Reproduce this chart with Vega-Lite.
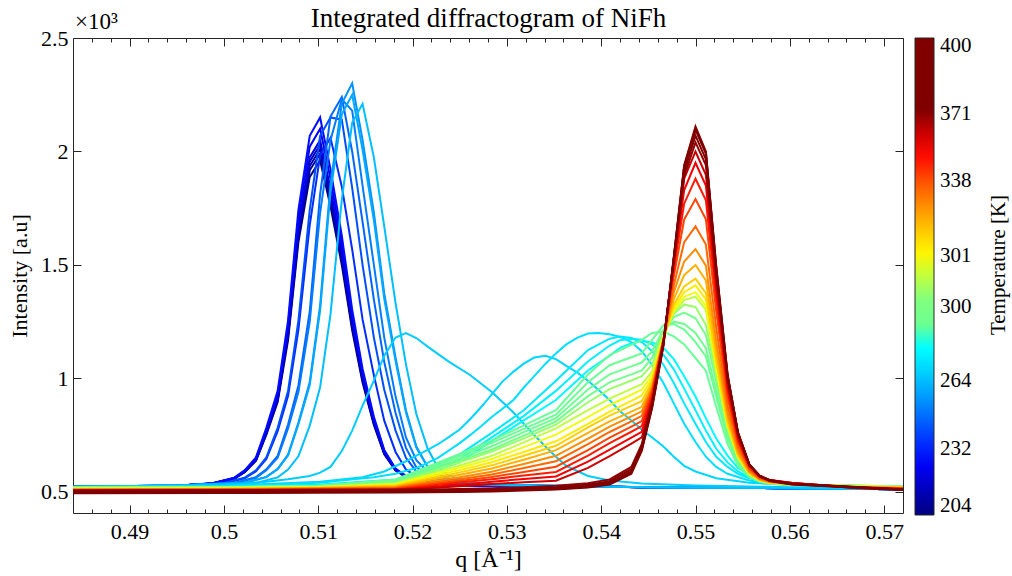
{
"$schema": "https://vega.github.io/schema/vega-lite/v6.json",
"width": 830, "height": 475,
"autosize": {"type": "none"},
"padding": {"left": 73, "top": 38, "right": 109, "bottom": 63},
"background": "white",
"config": {
  "font": "Liberation Serif",
  "view": {"stroke": "#262626", "strokeWidth": 1},
  "axis": {"grid": false, "domain": false, "labelFont": "Liberation Serif", "labelFontSize": 22, "labelColor": "#000000", "titleFont": "Liberation Serif", "titleFontSize": 22, "titleFontWeight": "normal", "titleColor": "#000000", "tickColor": "#262626", "tickWidth": 1}
},
"datasets": {"curves": [
{"c":0,"q":0.484,"i":523},{"c":0,"q":0.495,"i":527},{"c":0,"q":0.4988,"i":536},{"c":0,"q":0.5011,"i":558},{"c":0,"q":0.5022,"i":587},{"c":0,"q":0.5034,"i":637},{"c":0,"q":0.5045,"i":752},{"c":0,"q":0.5057,"i":896},{"c":0,"q":0.5068,"i":1169},{"c":0,"q":0.5079,"i":1601},{"c":0,"q":0.5091,"i":1888},{"c":0,"q":0.5102,"i":1960},{"c":0,"q":0.5113,"i":1759},{"c":0,"q":0.5125,"i":1500},{"c":0,"q":0.5136,"i":1212},{"c":0,"q":0.5147,"i":982},{"c":0,"q":0.5159,"i":795},{"c":0,"q":0.517,"i":666},{"c":0,"q":0.5182,"i":594},{"c":0,"q":0.5193,"i":565},{"c":0,"q":0.5216,"i":539},{"c":0,"q":0.525,"i":529},{"c":0,"q":0.545,"i":521},{"c":0,"q":0.572,"i":512},
{"c":2,"q":0.484,"i":523},{"c":2,"q":0.495,"i":527},{"c":2,"q":0.4988,"i":537},{"c":2,"q":0.5011,"i":559},{"c":2,"q":0.5022,"i":588},{"c":2,"q":0.5034,"i":639},{"c":2,"q":0.5045,"i":757},{"c":2,"q":0.5057,"i":904},{"c":2,"q":0.5068,"i":1183},{"c":2,"q":0.5079,"i":1623},{"c":2,"q":0.5091,"i":1917},{"c":2,"q":0.5102,"i":1990},{"c":2,"q":0.5113,"i":1784},{"c":2,"q":0.5125,"i":1520},{"c":2,"q":0.5136,"i":1227},{"c":2,"q":0.5147,"i":992},{"c":2,"q":0.5159,"i":801},{"c":2,"q":0.517,"i":669},{"c":2,"q":0.5182,"i":595},{"c":2,"q":0.5193,"i":566},{"c":2,"q":0.5216,"i":540},{"c":2,"q":0.525,"i":529},{"c":2,"q":0.545,"i":521},{"c":2,"q":0.572,"i":512},
{"c":4,"q":0.484,"i":523},{"c":4,"q":0.495,"i":527},{"c":4,"q":0.4988,"i":537},{"c":4,"q":0.5011,"i":559},{"c":4,"q":0.5022,"i":589},{"c":4,"q":0.5034,"i":641},{"c":4,"q":0.5045,"i":760},{"c":4,"q":0.5057,"i":909},{"c":4,"q":0.5068,"i":1192},{"c":4,"q":0.5079,"i":1638},{"c":4,"q":0.5091,"i":1936},{"c":4,"q":0.5102,"i":2010},{"c":4,"q":0.5113,"i":1802},{"c":4,"q":0.5125,"i":1534},{"c":4,"q":0.5136,"i":1236},{"c":4,"q":0.5147,"i":998},{"c":4,"q":0.5159,"i":805},{"c":4,"q":0.517,"i":671},{"c":4,"q":0.5182,"i":596},{"c":4,"q":0.5193,"i":567},{"c":4,"q":0.5216,"i":540},{"c":4,"q":0.525,"i":529},{"c":4,"q":0.545,"i":521},{"c":4,"q":0.572,"i":512},
{"c":6,"q":0.484,"i":523},{"c":6,"q":0.495,"i":527},{"c":6,"q":0.4988,"i":537},{"c":6,"q":0.5011,"i":560},{"c":6,"q":0.5022,"i":590},{"c":6,"q":0.5034,"i":643},{"c":6,"q":0.5045,"i":763},{"c":6,"q":0.5057,"i":914},{"c":6,"q":0.5068,"i":1201},{"c":6,"q":0.5079,"i":1653},{"c":6,"q":0.5091,"i":1955},{"c":6,"q":0.5102,"i":2030},{"c":6,"q":0.5113,"i":1819},{"c":6,"q":0.5125,"i":1547},{"c":6,"q":0.5136,"i":1246},{"c":6,"q":0.5147,"i":1005},{"c":6,"q":0.5159,"i":809},{"c":6,"q":0.517,"i":673},{"c":6,"q":0.5182,"i":597},{"c":6,"q":0.5193,"i":567},{"c":6,"q":0.5216,"i":540},{"c":6,"q":0.525,"i":530},{"c":6,"q":0.545,"i":521},{"c":6,"q":0.572,"i":512},
{"c":8,"q":0.484,"i":523},{"c":8,"q":0.495,"i":527},{"c":8,"q":0.4988,"i":537},{"c":8,"q":0.5011,"i":560},{"c":8,"q":0.5022,"i":591},{"c":8,"q":0.5034,"i":644},{"c":8,"q":0.5045,"i":766},{"c":8,"q":0.5057,"i":919},{"c":8,"q":0.5068,"i":1210},{"c":8,"q":0.5079,"i":1668},{"c":8,"q":0.5091,"i":1974},{"c":8,"q":0.5102,"i":2050},{"c":8,"q":0.5113,"i":1836},{"c":8,"q":0.5125,"i":1561},{"c":8,"q":0.5136,"i":1255},{"c":8,"q":0.5147,"i":1011},{"c":8,"q":0.5159,"i":812},{"c":8,"q":0.517,"i":675},{"c":8,"q":0.5182,"i":598},{"c":8,"q":0.5193,"i":568},{"c":8,"q":0.5216,"i":540},{"c":8,"q":0.525,"i":530},{"c":8,"q":0.545,"i":521},{"c":8,"q":0.572,"i":512},
{"c":10,"q":0.484,"i":523},{"c":10,"q":0.495,"i":527},{"c":10,"q":0.4988,"i":538},{"c":10,"q":0.5011,"i":561},{"c":10,"q":0.5022,"i":593},{"c":10,"q":0.5034,"i":648},{"c":10,"q":0.5045,"i":774},{"c":10,"q":0.5057,"i":932},{"c":10,"q":0.5068,"i":1232},{"c":10,"q":0.5079,"i":1706},{"c":10,"q":0.5091,"i":2021},{"c":10,"q":0.5102,"i":2100},{"c":10,"q":0.5113,"i":1879},{"c":10,"q":0.5125,"i":1595},{"c":10,"q":0.5136,"i":1279},{"c":10,"q":0.5147,"i":1027},{"c":10,"q":0.5159,"i":822},{"c":10,"q":0.517,"i":680},{"c":10,"q":0.5182,"i":601},{"c":10,"q":0.5193,"i":569},{"c":10,"q":0.5216,"i":541},{"c":10,"q":0.525,"i":530},{"c":10,"q":0.545,"i":521},{"c":10,"q":0.572,"i":512},
{"c":12,"q":0.484,"i":523},{"c":12,"q":0.495,"i":527},{"c":12,"q":0.4988,"i":538},{"c":12,"q":0.5011,"i":563},{"c":12,"q":0.5022,"i":595},{"c":12,"q":0.5034,"i":652},{"c":12,"q":0.5045,"i":782},{"c":12,"q":0.5057,"i":945},{"c":12,"q":0.5068,"i":1255},{"c":12,"q":0.5079,"i":1743},{"c":12,"q":0.5091,"i":2069},{"c":12,"q":0.5102,"i":2150},{"c":12,"q":0.5113,"i":1922},{"c":12,"q":0.5125,"i":1629},{"c":12,"q":0.5136,"i":1303},{"c":12,"q":0.5147,"i":1043},{"c":12,"q":0.5159,"i":831},{"c":12,"q":0.517,"i":685},{"c":12,"q":0.5182,"i":603},{"c":12,"q":0.5193,"i":571},{"c":12,"q":0.5216,"i":542},{"c":12,"q":0.525,"i":530},{"c":12,"q":0.545,"i":521},{"c":12,"q":0.572,"i":512},
{"c":15,"q":0.484,"i":523},{"c":15,"q":0.495,"i":528},{"c":15,"q":0.4999,"i":537},{"c":15,"q":0.5022,"i":560},{"c":15,"q":0.5034,"i":591},{"c":15,"q":0.5045,"i":645},{"c":15,"q":0.5057,"i":768},{"c":15,"q":0.5068,"i":922},{"c":15,"q":0.5079,"i":1214},{"c":15,"q":0.5091,"i":1676},{"c":15,"q":0.5102,"i":1983},{"c":15,"q":0.5113,"i":2060},{"c":15,"q":0.5125,"i":1845},{"c":15,"q":0.5136,"i":1568},{"c":15,"q":0.5147,"i":1260},{"c":15,"q":0.5159,"i":1014},{"c":15,"q":0.517,"i":814},{"c":15,"q":0.5182,"i":676},{"c":15,"q":0.5193,"i":599},{"c":15,"q":0.5204,"i":568},{"c":15,"q":0.5227,"i":540},{"c":15,"q":0.5261,"i":530},{"c":15,"q":0.545,"i":521},{"c":15,"q":0.572,"i":512},
{"c":18,"q":0.484,"i":523},{"c":18,"q":0.495,"i":528},{"c":18,"q":0.4999,"i":538},{"c":18,"q":0.5022,"i":563},{"c":18,"q":0.5034,"i":595},{"c":18,"q":0.5045,"i":652},{"c":18,"q":0.5057,"i":782},{"c":18,"q":0.5068,"i":945},{"c":18,"q":0.5079,"i":1255},{"c":18,"q":0.5091,"i":1743},{"c":18,"q":0.5102,"i":2069},{"c":18,"q":0.5113,"i":2150},{"c":18,"q":0.5125,"i":2140},{"c":18,"q":0.5136,"i":1840},{"c":18,"q":0.5147,"i":1500},{"c":18,"q":0.5159,"i":1180},{"c":18,"q":0.517,"i":950},{"c":18,"q":0.5182,"i":770},{"c":18,"q":0.5193,"i":650},{"c":18,"q":0.5204,"i":590},{"c":18,"q":0.5216,"i":562},{"c":18,"q":0.5238,"i":541},{"c":18,"q":0.5273,"i":530},{"c":18,"q":0.545,"i":521},{"c":18,"q":0.572,"i":512},
{"c":20,"q":0.484,"i":523},{"c":20,"q":0.495,"i":528},{"c":20,"q":0.5011,"i":539},{"c":20,"q":0.5034,"i":565},{"c":20,"q":0.5045,"i":599},{"c":20,"q":0.5057,"i":659},{"c":20,"q":0.5068,"i":797},{"c":20,"q":0.5079,"i":969},{"c":20,"q":0.5091,"i":1295},{"c":20,"q":0.5102,"i":1811},{"c":20,"q":0.5113,"i":2154},{"c":20,"q":0.5125,"i":2240},{"c":20,"q":0.5136,"i":1999},{"c":20,"q":0.5147,"i":1690},{"c":20,"q":0.5159,"i":1347},{"c":20,"q":0.517,"i":1072},{"c":20,"q":0.5182,"i":848},{"c":20,"q":0.5193,"i":694},{"c":20,"q":0.5204,"i":608},{"c":20,"q":0.5216,"i":574},{"c":20,"q":0.5238,"i":543},{"c":20,"q":0.5273,"i":531},{"c":20,"q":0.545,"i":521},{"c":20,"q":0.572,"i":512},
{"c":22,"q":0.484,"i":523},{"c":22,"q":0.495,"i":528},{"c":22,"q":0.5011,"i":538},{"c":22,"q":0.5034,"i":562},{"c":22,"q":0.5045,"i":595},{"c":22,"q":0.5057,"i":650},{"c":22,"q":0.5068,"i":780},{"c":22,"q":0.5079,"i":940},{"c":22,"q":0.5091,"i":1250},{"c":22,"q":0.5102,"i":1730},{"c":22,"q":0.5113,"i":2050},{"c":22,"q":0.5125,"i":2230},{"c":22,"q":0.5136,"i":2180},{"c":22,"q":0.5147,"i":1850},{"c":22,"q":0.5159,"i":1500},{"c":22,"q":0.517,"i":1180},{"c":22,"q":0.5182,"i":920},{"c":22,"q":0.5193,"i":740},{"c":22,"q":0.5204,"i":640},{"c":22,"q":0.5216,"i":590},{"c":22,"q":0.5238,"i":548},{"c":22,"q":0.5273,"i":532},{"c":22,"q":0.545,"i":521},{"c":22,"q":0.572,"i":512},
{"c":24,"q":0.484,"i":523},{"c":24,"q":0.495,"i":528},{"c":24,"q":0.5022,"i":540},{"c":24,"q":0.5045,"i":566},{"c":24,"q":0.5057,"i":602},{"c":24,"q":0.5068,"i":664},{"c":24,"q":0.5079,"i":806},{"c":24,"q":0.5091,"i":984},{"c":24,"q":0.5102,"i":1322},{"c":24,"q":0.5113,"i":1856},{"c":24,"q":0.5125,"i":2211},{"c":24,"q":0.5136,"i":2300},{"c":24,"q":0.5147,"i":2051},{"c":24,"q":0.5159,"i":1731},{"c":24,"q":0.517,"i":1375},{"c":24,"q":0.5182,"i":1091},{"c":24,"q":0.5193,"i":860},{"c":24,"q":0.5204,"i":700},{"c":24,"q":0.5216,"i":611},{"c":24,"q":0.5227,"i":575},{"c":24,"q":0.525,"i":543},{"c":24,"q":0.5284,"i":531},{"c":24,"q":0.545,"i":521},{"c":24,"q":0.572,"i":512},
{"c":26,"q":0.484,"i":523},{"c":26,"q":0.495,"i":528},{"c":26,"q":0.5022,"i":539},{"c":26,"q":0.5045,"i":565},{"c":26,"q":0.5057,"i":600},{"c":26,"q":0.5068,"i":660},{"c":26,"q":0.5079,"i":798},{"c":26,"q":0.5091,"i":971},{"c":26,"q":0.5102,"i":1300},{"c":26,"q":0.5113,"i":1820},{"c":26,"q":0.5125,"i":2164},{"c":26,"q":0.5136,"i":2250},{"c":26,"q":0.5147,"i":2008},{"c":26,"q":0.5159,"i":1697},{"c":26,"q":0.517,"i":1351},{"c":26,"q":0.5182,"i":1076},{"c":26,"q":0.5193,"i":850},{"c":26,"q":0.5204,"i":695},{"c":26,"q":0.5216,"i":609},{"c":26,"q":0.5227,"i":574},{"c":26,"q":0.525,"i":543},{"c":26,"q":0.5284,"i":531},{"c":26,"q":0.545,"i":521},{"c":26,"q":0.572,"i":512},
{"c":28,"q":0.484,"i":523},{"c":28,"q":0.495,"i":528},{"c":28,"q":0.5034,"i":539},{"c":28,"q":0.5057,"i":564},{"c":28,"q":0.5068,"i":598},{"c":28,"q":0.5079,"i":657},{"c":28,"q":0.5091,"i":792},{"c":28,"q":0.5102,"i":961},{"c":28,"q":0.5113,"i":1282},{"c":28,"q":0.5125,"i":1788},{"c":28,"q":0.5136,"i":2126},{"c":28,"q":0.5147,"i":2210},{"c":28,"q":0.5159,"i":1974},{"c":28,"q":0.517,"i":1670},{"c":28,"q":0.5182,"i":1332},{"c":28,"q":0.5193,"i":1062},{"c":28,"q":0.5204,"i":843},{"c":28,"q":0.5216,"i":691},{"c":28,"q":0.5227,"i":606},{"c":28,"q":0.5238,"i":573},{"c":28,"q":0.5261,"i":542},{"c":28,"q":0.5295,"i":530},{"c":28,"q":0.545,"i":521},{"c":28,"q":0.572,"i":512},
{"c":29.5,"q":0.484,"i":522},{"c":29.5,"q":0.4966,"i":525},{"c":29.5,"q":0.5011,"i":532},{"c":29.5,"q":0.5045,"i":545},{"c":29.5,"q":0.5068,"i":556},{"c":29.5,"q":0.5091,"i":570},{"c":29.5,"q":0.5102,"i":585},{"c":29.5,"q":0.5113,"i":610},{"c":29.5,"q":0.5125,"i":680},{"c":29.5,"q":0.5136,"i":770},{"c":29.5,"q":0.5147,"i":880},{"c":29.5,"q":0.5159,"i":990},{"c":29.5,"q":0.517,"i":1100},{"c":29.5,"q":0.5182,"i":1180},{"c":29.5,"q":0.5193,"i":1200},{"c":29.5,"q":0.5204,"i":1178},{"c":29.5,"q":0.5216,"i":1140},{"c":29.5,"q":0.5238,"i":1075},{"c":29.5,"q":0.5261,"i":1015},{"c":29.5,"q":0.5284,"i":940},{"c":29.5,"q":0.5307,"i":850},{"c":29.5,"q":0.5318,"i":800},{"c":29.5,"q":0.5329,"i":750},{"c":29.5,"q":0.5341,"i":700},{"c":29.5,"q":0.5352,"i":655},{"c":29.5,"q":0.5363,"i":615},{"c":29.5,"q":0.5386,"i":570},{"c":29.5,"q":0.5409,"i":550},{"c":29.5,"q":0.5443,"i":537},{"c":29.5,"q":0.55,"i":528},{"c":29.5,"q":0.5602,"i":520},{"c":29.5,"q":0.572,"i":513},
{"c":30.5,"q":0.484,"i":522},{"c":30.5,"q":0.5,"i":527},{"c":30.5,"q":0.5102,"i":545},{"c":30.5,"q":0.5147,"i":565},{"c":30.5,"q":0.517,"i":590},{"c":30.5,"q":0.5193,"i":635},{"c":30.5,"q":0.5204,"i":660},{"c":30.5,"q":0.5216,"i":685},{"c":30.5,"q":0.5227,"i":710},{"c":30.5,"q":0.5238,"i":740},{"c":30.5,"q":0.525,"i":775},{"c":30.5,"q":0.5261,"i":820},{"c":30.5,"q":0.5273,"i":875},{"c":30.5,"q":0.5284,"i":930},{"c":30.5,"q":0.5295,"i":985},{"c":30.5,"q":0.5307,"i":1030},{"c":30.5,"q":0.5318,"i":1065},{"c":30.5,"q":0.5329,"i":1092},{"c":30.5,"q":0.5341,"i":1100},{"c":30.5,"q":0.5352,"i":1085},{"c":30.5,"q":0.5363,"i":1055},{"c":30.5,"q":0.5375,"i":1025},{"c":30.5,"q":0.5386,"i":990},{"c":30.5,"q":0.5397,"i":950},{"c":30.5,"q":0.5409,"i":905},{"c":30.5,"q":0.542,"i":855},{"c":30.5,"q":0.5432,"i":815},{"c":30.5,"q":0.5443,"i":775},{"c":30.5,"q":0.5454,"i":740},{"c":30.5,"q":0.5466,"i":700},{"c":30.5,"q":0.5477,"i":655},{"c":30.5,"q":0.5488,"i":615},{"c":30.5,"q":0.55,"i":590},{"c":30.5,"q":0.5522,"i":560},{"c":30.5,"q":0.5557,"i":540},{"c":30.5,"q":0.5602,"i":530},{"c":30.5,"q":0.572,"i":516},
{"c":31.5,"q":0.484,"i":521},{"c":31.5,"q":0.5,"i":525},{"c":31.5,"q":0.51,"i":540},{"c":31.5,"q":0.5159,"i":565},{"c":31.5,"q":0.5182,"i":580},{"c":31.5,"q":0.5204,"i":605},{"c":31.5,"q":0.5227,"i":650},{"c":31.5,"q":0.525,"i":715},{"c":31.5,"q":0.5261,"i":750},{"c":31.5,"q":0.5273,"i":790},{"c":31.5,"q":0.5284,"i":830},{"c":31.5,"q":0.5295,"i":865},{"c":31.5,"q":0.5307,"i":905},{"c":31.5,"q":0.5318,"i":960},{"c":31.5,"q":0.5329,"i":1010},{"c":31.5,"q":0.5341,"i":1065},{"c":31.5,"q":0.5352,"i":1110},{"c":31.5,"q":0.5363,"i":1150},{"c":31.5,"q":0.5375,"i":1180},{"c":31.5,"q":0.5386,"i":1198},{"c":31.5,"q":0.5397,"i":1200},{"c":31.5,"q":0.5409,"i":1195},{"c":31.5,"q":0.542,"i":1183},{"c":31.5,"q":0.5432,"i":1160},{"c":31.5,"q":0.5443,"i":1120},{"c":31.5,"q":0.5454,"i":1060},{"c":31.5,"q":0.5466,"i":980},{"c":31.5,"q":0.5477,"i":890},{"c":31.5,"q":0.5488,"i":800},{"c":31.5,"q":0.55,"i":720},{"c":31.5,"q":0.5511,"i":655},{"c":31.5,"q":0.5522,"i":610},{"c":31.5,"q":0.5534,"i":580},{"c":31.5,"q":0.5557,"i":550},{"c":31.5,"q":0.5579,"i":537},{"c":31.5,"q":0.5602,"i":530},{"c":31.5,"q":0.572,"i":518},
{"c":32.5,"q":0.484,"i":521},{"c":32.5,"q":0.5,"i":524},{"c":32.5,"q":0.51,"i":532},{"c":32.5,"q":0.5182,"i":555},{"c":32.5,"q":0.5216,"i":600},{"c":32.5,"q":0.525,"i":665},{"c":32.5,"q":0.5284,"i":760},{"c":32.5,"q":0.5318,"i":860},{"c":32.5,"q":0.5352,"i":990},{"c":32.5,"q":0.5386,"i":1125},{"c":32.5,"q":0.5409,"i":1175},{"c":32.5,"q":0.542,"i":1185},{"c":32.5,"q":0.5432,"i":1178},{"c":32.5,"q":0.5443,"i":1160},{"c":32.5,"q":0.5454,"i":1120},{"c":32.5,"q":0.5466,"i":1060},{"c":32.5,"q":0.5477,"i":980},{"c":32.5,"q":0.5488,"i":890},{"c":32.5,"q":0.55,"i":800},{"c":32.5,"q":0.5511,"i":720},{"c":32.5,"q":0.5522,"i":655},{"c":32.5,"q":0.5534,"i":610},{"c":32.5,"q":0.5545,"i":580},{"c":32.5,"q":0.5557,"i":560},{"c":32.5,"q":0.5579,"i":540},{"c":32.5,"q":0.5602,"i":532},{"c":32.5,"q":0.5671,"i":525},{"c":32.5,"q":0.572,"i":520},
{"c":33.5,"q":0.484,"i":521},{"c":33.5,"q":0.5,"i":523},{"c":33.5,"q":0.51,"i":530},{"c":33.5,"q":0.5182,"i":550},{"c":33.5,"q":0.5216,"i":590},{"c":33.5,"q":0.525,"i":645},{"c":33.5,"q":0.5284,"i":740},{"c":33.5,"q":0.5318,"i":835},{"c":33.5,"q":0.5352,"i":945},{"c":33.5,"q":0.5386,"i":1075},{"c":33.5,"q":0.5409,"i":1145},{"c":33.5,"q":0.542,"i":1168},{"c":33.5,"q":0.5432,"i":1175},{"c":33.5,"q":0.5443,"i":1170},{"c":33.5,"q":0.5454,"i":1150},{"c":33.5,"q":0.5466,"i":1105},{"c":33.5,"q":0.5477,"i":1040},{"c":33.5,"q":0.5488,"i":955},{"c":33.5,"q":0.55,"i":860},{"c":33.5,"q":0.5511,"i":770},{"c":33.5,"q":0.5522,"i":690},{"c":33.5,"q":0.5534,"i":630},{"c":33.5,"q":0.5545,"i":590},{"c":33.5,"q":0.5557,"i":565},{"c":33.5,"q":0.5579,"i":542},{"c":33.5,"q":0.5602,"i":533},{"c":33.5,"q":0.5671,"i":526},{"c":33.5,"q":0.572,"i":521},
{"c":34.5,"q":0.484,"i":520},{"c":34.5,"q":0.5,"i":522},{"c":34.5,"q":0.51,"i":528},{"c":34.5,"q":0.5182,"i":547},{"c":34.5,"q":0.5216,"i":582},{"c":34.5,"q":0.525,"i":630},{"c":34.5,"q":0.5284,"i":725},{"c":34.5,"q":0.5318,"i":815},{"c":34.5,"q":0.5352,"i":905},{"c":34.5,"q":0.5386,"i":1035},{"c":34.5,"q":0.5409,"i":1100},{"c":34.5,"q":0.542,"i":1135},{"c":34.5,"q":0.5432,"i":1155},{"c":34.5,"q":0.5443,"i":1165},{"c":34.5,"q":0.5454,"i":1160},{"c":34.5,"q":0.5466,"i":1135},{"c":34.5,"q":0.5477,"i":1085},{"c":34.5,"q":0.5488,"i":1010},{"c":34.5,"q":0.55,"i":920},{"c":34.5,"q":0.5511,"i":825},{"c":34.5,"q":0.5522,"i":735},{"c":34.5,"q":0.5534,"i":660},{"c":34.5,"q":0.5545,"i":605},{"c":34.5,"q":0.5557,"i":575},{"c":34.5,"q":0.5579,"i":546},{"c":34.5,"q":0.5602,"i":535},{"c":34.5,"q":0.5671,"i":527},{"c":34.5,"q":0.572,"i":522},
{"c":36.5,"q":0.484,"i":519},{"c":36.5,"q":0.5,"i":521},{"c":36.5,"q":0.51,"i":527},{"c":36.5,"q":0.5182,"i":555},{"c":36.5,"q":0.5216,"i":611},{"c":36.5,"q":0.525,"i":667},{"c":36.5,"q":0.5284,"i":727},{"c":36.5,"q":0.5318,"i":793},{"c":36.5,"q":0.5352,"i":860},{"c":36.5,"q":0.5386,"i":1017},{"c":36.5,"q":0.5409,"i":1103},{"c":36.5,"q":0.5432,"i":1148},{"c":36.5,"q":0.5443,"i":1170},{"c":36.5,"q":0.5454,"i":1200},{"c":36.5,"q":0.5466,"i":1205},{"c":36.5,"q":0.5477,"i":1185},{"c":36.5,"q":0.5488,"i":1150},{"c":36.5,"q":0.55,"i":1090},{"c":36.5,"q":0.5511,"i":1034},{"c":36.5,"q":0.5522,"i":875},{"c":36.5,"q":0.5534,"i":711},{"c":36.5,"q":0.5545,"i":615},{"c":36.5,"q":0.5557,"i":565},{"c":36.5,"q":0.5568,"i":545},{"c":36.5,"q":0.5579,"i":536},{"c":36.5,"q":0.5602,"i":530},{"c":36.5,"q":0.5671,"i":527},{"c":36.5,"q":0.572,"i":524},
{"c":38.5,"q":0.484,"i":519},{"c":38.5,"q":0.5,"i":521},{"c":38.5,"q":0.51,"i":526},{"c":38.5,"q":0.5182,"i":550},{"c":38.5,"q":0.5216,"i":604},{"c":38.5,"q":0.525,"i":658},{"c":38.5,"q":0.5284,"i":716},{"c":38.5,"q":0.5318,"i":778},{"c":38.5,"q":0.5352,"i":840},{"c":38.5,"q":0.5386,"i":983},{"c":38.5,"q":0.5409,"i":1058},{"c":38.5,"q":0.5432,"i":1093},{"c":38.5,"q":0.5443,"i":1110},{"c":38.5,"q":0.5454,"i":1170},{"c":38.5,"q":0.5466,"i":1235},{"c":38.5,"q":0.5477,"i":1240},{"c":38.5,"q":0.5488,"i":1215},{"c":38.5,"q":0.55,"i":1160},{"c":38.5,"q":0.5511,"i":1097},{"c":38.5,"q":0.5522,"i":919},{"c":38.5,"q":0.5534,"i":735},{"c":38.5,"q":0.5545,"i":627},{"c":38.5,"q":0.5557,"i":569},{"c":38.5,"q":0.5568,"i":547},{"c":38.5,"q":0.5579,"i":538},{"c":38.5,"q":0.5602,"i":531},{"c":38.5,"q":0.5671,"i":527},{"c":38.5,"q":0.572,"i":524},
{"c":41,"q":0.484,"i":518},{"c":41,"q":0.5,"i":520},{"c":41,"q":0.51,"i":525},{"c":41,"q":0.5182,"i":546},{"c":41,"q":0.5216,"i":597},{"c":41,"q":0.525,"i":647},{"c":41,"q":0.5284,"i":701},{"c":41,"q":0.5318,"i":763},{"c":41,"q":0.5352,"i":825},{"c":41,"q":0.5386,"i":951},{"c":41,"q":0.5409,"i":1018},{"c":41,"q":0.5432,"i":1053},{"c":41,"q":0.5443,"i":1070},{"c":41,"q":0.5454,"i":1120},{"c":41,"q":0.5466,"i":1215},{"c":41,"q":0.5477,"i":1250},{"c":41,"q":0.5488,"i":1240},{"c":41,"q":0.55,"i":1200},{"c":41,"q":0.5511,"i":1133},{"c":41,"q":0.5522,"i":944},{"c":41,"q":0.5534,"i":748},{"c":41,"q":0.5545,"i":633},{"c":41,"q":0.5557,"i":572},{"c":41,"q":0.5568,"i":549},{"c":41,"q":0.5579,"i":539},{"c":41,"q":0.5602,"i":532},{"c":41,"q":0.5671,"i":527},{"c":41,"q":0.572,"i":524},
{"c":44,"q":0.484,"i":518},{"c":44,"q":0.5,"i":520},{"c":44,"q":0.51,"i":524},{"c":44,"q":0.5182,"i":542},{"c":44,"q":0.5216,"i":589},{"c":44,"q":0.525,"i":637},{"c":44,"q":0.5284,"i":687},{"c":44,"q":0.5318,"i":748},{"c":44,"q":0.5352,"i":810},{"c":44,"q":0.5386,"i":922},{"c":44,"q":0.5409,"i":983},{"c":44,"q":0.5432,"i":1018},{"c":44,"q":0.5443,"i":1035},{"c":44,"q":0.5454,"i":1090},{"c":44,"q":0.5466,"i":1210},{"c":44,"q":0.5477,"i":1270},{"c":44,"q":0.5488,"i":1290},{"c":44,"q":0.55,"i":1265},{"c":44,"q":0.5511,"i":1191},{"c":44,"q":0.5522,"i":984},{"c":44,"q":0.5534,"i":769},{"c":44,"q":0.5545,"i":643},{"c":44,"q":0.5557,"i":577},{"c":44,"q":0.5568,"i":551},{"c":44,"q":0.5579,"i":540},{"c":44,"q":0.5602,"i":532},{"c":44,"q":0.5671,"i":526},{"c":44,"q":0.572,"i":523},
{"c":47,"q":0.484,"i":517},{"c":47,"q":0.5,"i":519},{"c":47,"q":0.51,"i":523},{"c":47,"q":0.5182,"i":539},{"c":47,"q":0.5216,"i":584},{"c":47,"q":0.525,"i":630},{"c":47,"q":0.5284,"i":678},{"c":47,"q":0.5318,"i":736},{"c":47,"q":0.5352,"i":796},{"c":47,"q":0.5386,"i":895},{"c":47,"q":0.5409,"i":953},{"c":47,"q":0.5432,"i":991},{"c":47,"q":0.5443,"i":1010},{"c":47,"q":0.5454,"i":1060},{"c":47,"q":0.5466,"i":1200},{"c":47,"q":0.5477,"i":1285},{"c":47,"q":0.5488,"i":1325},{"c":47,"q":0.55,"i":1315},{"c":47,"q":0.5511,"i":1236},{"c":47,"q":0.5522,"i":1015},{"c":47,"q":0.5534,"i":786},{"c":47,"q":0.5545,"i":651},{"c":47,"q":0.5557,"i":580},{"c":47,"q":0.5568,"i":553},{"c":47,"q":0.5579,"i":541},{"c":47,"q":0.5602,"i":533},{"c":47,"q":0.5671,"i":526},{"c":47,"q":0.572,"i":523},
{"c":50,"q":0.484,"i":516},{"c":50,"q":0.5,"i":518},{"c":50,"q":0.51,"i":522},{"c":50,"q":0.5182,"i":536},{"c":50,"q":0.5216,"i":576},{"c":50,"q":0.525,"i":616},{"c":50,"q":0.5284,"i":659},{"c":50,"q":0.5318,"i":718},{"c":50,"q":0.5352,"i":780},{"c":50,"q":0.5386,"i":860},{"c":50,"q":0.5409,"i":911},{"c":50,"q":0.5432,"i":954},{"c":50,"q":0.5443,"i":975},{"c":50,"q":0.5454,"i":1030},{"c":50,"q":0.5466,"i":1190},{"c":50,"q":0.5477,"i":1290},{"c":50,"q":0.5488,"i":1345},{"c":50,"q":0.55,"i":1360},{"c":50,"q":0.5511,"i":1302},{"c":50,"q":0.5522,"i":1034},{"c":50,"q":0.5534,"i":784},{"c":50,"q":0.5545,"i":650},{"c":50,"q":0.5557,"i":578},{"c":50,"q":0.5568,"i":550},{"c":50,"q":0.5579,"i":540},{"c":50,"q":0.5602,"i":533},{"c":50,"q":0.5671,"i":525},{"c":50,"q":0.572,"i":522},
{"c":53,"q":0.484,"i":515},{"c":53,"q":0.5,"i":517},{"c":53,"q":0.51,"i":521},{"c":53,"q":0.5182,"i":533},{"c":53,"q":0.5216,"i":570},{"c":53,"q":0.525,"i":606},{"c":53,"q":0.5284,"i":645},{"c":53,"q":0.5318,"i":697},{"c":53,"q":0.5352,"i":752},{"c":53,"q":0.5386,"i":830},{"c":53,"q":0.5409,"i":883},{"c":53,"q":0.5432,"i":928},{"c":53,"q":0.5443,"i":950},{"c":53,"q":0.5454,"i":1015},{"c":53,"q":0.5466,"i":1185},{"c":53,"q":0.5477,"i":1300},{"c":53,"q":0.5488,"i":1360},{"c":53,"q":0.55,"i":1380},{"c":53,"q":0.5511,"i":1320},{"c":53,"q":0.5522,"i":1047},{"c":53,"q":0.5534,"i":790},{"c":53,"q":0.5545,"i":653},{"c":53,"q":0.5557,"i":579},{"c":53,"q":0.5568,"i":551},{"c":53,"q":0.5579,"i":540},{"c":53,"q":0.5602,"i":534},{"c":53,"q":0.5671,"i":525},{"c":53,"q":0.572,"i":521},
{"c":56,"q":0.484,"i":514},{"c":56,"q":0.5,"i":516},{"c":56,"q":0.51,"i":520},{"c":56,"q":0.5182,"i":530},{"c":56,"q":0.5216,"i":563},{"c":56,"q":0.525,"i":596},{"c":56,"q":0.5284,"i":631},{"c":56,"q":0.5318,"i":676},{"c":56,"q":0.5352,"i":723},{"c":56,"q":0.5386,"i":800},{"c":56,"q":0.5409,"i":854},{"c":56,"q":0.5432,"i":901},{"c":56,"q":0.5443,"i":925},{"c":56,"q":0.5454,"i":1000},{"c":56,"q":0.5466,"i":1180},{"c":56,"q":0.5477,"i":1310},{"c":56,"q":0.5488,"i":1380},{"c":56,"q":0.55,"i":1410},{"c":56,"q":0.5511,"i":1348},{"c":56,"q":0.5522,"i":1065},{"c":56,"q":0.5534,"i":799},{"c":56,"q":0.5545,"i":658},{"c":56,"q":0.5557,"i":581},{"c":56,"q":0.5568,"i":552},{"c":56,"q":0.5579,"i":541},{"c":56,"q":0.5602,"i":534},{"c":56,"q":0.5671,"i":524},{"c":56,"q":0.572,"i":520},
{"c":59,"q":0.484,"i":512},{"c":59,"q":0.5,"i":514},{"c":59,"q":0.51,"i":518},{"c":59,"q":0.5182,"i":527},{"c":59,"q":0.5216,"i":556},{"c":59,"q":0.525,"i":586},{"c":59,"q":0.5284,"i":617},{"c":59,"q":0.5318,"i":659},{"c":59,"q":0.5352,"i":703},{"c":59,"q":0.5386,"i":784},{"c":59,"q":0.5409,"i":836},{"c":59,"q":0.5432,"i":879},{"c":59,"q":0.5443,"i":900},{"c":59,"q":0.5454,"i":985},{"c":59,"q":0.5466,"i":1175},{"c":59,"q":0.5477,"i":1325},{"c":59,"q":0.5488,"i":1405},{"c":59,"q":0.55,"i":1440},{"c":59,"q":0.5511,"i":1376},{"c":59,"q":0.5522,"i":1083},{"c":59,"q":0.5534,"i":809},{"c":59,"q":0.5545,"i":662},{"c":59,"q":0.5557,"i":583},{"c":59,"q":0.5568,"i":552},{"c":59,"q":0.5579,"i":541},{"c":59,"q":0.5602,"i":534},{"c":59,"q":0.5671,"i":523},{"c":59,"q":0.572,"i":519},
{"c":62,"q":0.484,"i":511},{"c":62,"q":0.5,"i":513},{"c":62,"q":0.51,"i":517},{"c":62,"q":0.5182,"i":524},{"c":62,"q":0.5216,"i":550},{"c":62,"q":0.525,"i":576},{"c":62,"q":0.5284,"i":603},{"c":62,"q":0.5318,"i":642},{"c":62,"q":0.5352,"i":684},{"c":62,"q":0.5386,"i":760},{"c":62,"q":0.5409,"i":811},{"c":62,"q":0.5432,"i":854},{"c":62,"q":0.5443,"i":875},{"c":62,"q":0.5454,"i":970},{"c":62,"q":0.5466,"i":1170},{"c":62,"q":0.5477,"i":1350},{"c":62,"q":0.5488,"i":1455},{"c":62,"q":0.55,"i":1500},{"c":62,"q":0.5511,"i":1432},{"c":62,"q":0.5522,"i":1120},{"c":62,"q":0.5534,"i":827},{"c":62,"q":0.5545,"i":671},{"c":62,"q":0.5557,"i":586},{"c":62,"q":0.5568,"i":554},{"c":62,"q":0.5579,"i":543},{"c":62,"q":0.5602,"i":535},{"c":62,"q":0.5671,"i":522},{"c":62,"q":0.572,"i":518},
{"c":65,"q":0.484,"i":510},{"c":65,"q":0.5,"i":512},{"c":65,"q":0.51,"i":515},{"c":65,"q":0.5182,"i":521},{"c":65,"q":0.5216,"i":543},{"c":65,"q":0.525,"i":565},{"c":65,"q":0.5284,"i":589},{"c":65,"q":0.5318,"i":623},{"c":65,"q":0.5352,"i":659},{"c":65,"q":0.5386,"i":735},{"c":65,"q":0.5409,"i":788},{"c":65,"q":0.5432,"i":833},{"c":65,"q":0.5443,"i":855},{"c":65,"q":0.5454,"i":960},{"c":65,"q":0.5466,"i":1170},{"c":65,"q":0.5477,"i":1380},{"c":65,"q":0.5488,"i":1515},{"c":65,"q":0.55,"i":1570},{"c":65,"q":0.5511,"i":1497},{"c":65,"q":0.5522,"i":1162},{"c":65,"q":0.5534,"i":849},{"c":65,"q":0.5545,"i":682},{"c":65,"q":0.5557,"i":591},{"c":65,"q":0.5568,"i":556},{"c":65,"q":0.5579,"i":544},{"c":65,"q":0.5602,"i":535},{"c":65,"q":0.5671,"i":521},{"c":65,"q":0.572,"i":517},
{"c":68,"q":0.484,"i":509},{"c":68,"q":0.5,"i":511},{"c":68,"q":0.51,"i":514},{"c":68,"q":0.5182,"i":518},{"c":68,"q":0.5216,"i":537},{"c":68,"q":0.525,"i":556},{"c":68,"q":0.5284,"i":577},{"c":68,"q":0.5318,"i":605},{"c":68,"q":0.5352,"i":635},{"c":68,"q":0.5386,"i":710},{"c":68,"q":0.5409,"i":764},{"c":68,"q":0.5432,"i":811},{"c":68,"q":0.5443,"i":835},{"c":68,"q":0.5454,"i":950},{"c":68,"q":0.5466,"i":1170},{"c":68,"q":0.5477,"i":1410},{"c":68,"q":0.5488,"i":1600},{"c":68,"q":0.55,"i":1670},{"c":68,"q":0.5511,"i":1590},{"c":68,"q":0.5522,"i":1223},{"c":68,"q":0.5534,"i":880},{"c":68,"q":0.5545,"i":697},{"c":68,"q":0.5557,"i":597},{"c":68,"q":0.5568,"i":559},{"c":68,"q":0.5579,"i":546},{"c":68,"q":0.5602,"i":536},{"c":68,"q":0.5671,"i":520},{"c":68,"q":0.572,"i":516},
{"c":71,"q":0.484,"i":508},{"c":71,"q":0.5,"i":510},{"c":71,"q":0.51,"i":512},{"c":71,"q":0.5182,"i":515},{"c":71,"q":0.5216,"i":532},{"c":71,"q":0.525,"i":548},{"c":71,"q":0.5284,"i":566},{"c":71,"q":0.5318,"i":588},{"c":71,"q":0.5352,"i":611},{"c":71,"q":0.5386,"i":684},{"c":71,"q":0.5409,"i":739},{"c":71,"q":0.5432,"i":788},{"c":71,"q":0.5443,"i":812},{"c":71,"q":0.5454,"i":940},{"c":71,"q":0.5466,"i":1170},{"c":71,"q":0.5477,"i":1450},{"c":71,"q":0.5488,"i":1700},{"c":71,"q":0.55,"i":1790},{"c":71,"q":0.5511,"i":1701},{"c":71,"q":0.5522,"i":1297},{"c":71,"q":0.5534,"i":917},{"c":71,"q":0.5545,"i":715},{"c":71,"q":0.5557,"i":605},{"c":71,"q":0.5568,"i":563},{"c":71,"q":0.5579,"i":548},{"c":71,"q":0.5602,"i":538},{"c":71,"q":0.5671,"i":519},{"c":71,"q":0.572,"i":515},
{"c":74,"q":0.484,"i":506},{"c":74,"q":0.5,"i":508},{"c":74,"q":0.51,"i":510},{"c":74,"q":0.5182,"i":512},{"c":74,"q":0.5216,"i":526},{"c":74,"q":0.525,"i":541},{"c":74,"q":0.5284,"i":556},{"c":74,"q":0.5318,"i":572},{"c":74,"q":0.5352,"i":588},{"c":74,"q":0.5386,"i":660},{"c":74,"q":0.5409,"i":715},{"c":74,"q":0.5432,"i":765},{"c":74,"q":0.5443,"i":790},{"c":74,"q":0.5454,"i":925},{"c":74,"q":0.5466,"i":1165},{"c":74,"q":0.5477,"i":1480},{"c":74,"q":0.5488,"i":1770},{"c":74,"q":0.55,"i":1880},{"c":74,"q":0.5511,"i":1785},{"c":74,"q":0.5522,"i":1352},{"c":74,"q":0.5534,"i":945},{"c":74,"q":0.5545,"i":728},{"c":74,"q":0.5557,"i":610},{"c":74,"q":0.5568,"i":566},{"c":74,"q":0.5579,"i":549},{"c":74,"q":0.5602,"i":539},{"c":74,"q":0.5671,"i":518},{"c":74,"q":0.572,"i":514},
{"c":77,"q":0.484,"i":505},{"c":77,"q":0.5,"i":507},{"c":77,"q":0.51,"i":508},{"c":77,"q":0.5182,"i":509},{"c":77,"q":0.5216,"i":521},{"c":77,"q":0.525,"i":532},{"c":77,"q":0.5284,"i":545},{"c":77,"q":0.5318,"i":557},{"c":77,"q":0.5352,"i":568},{"c":77,"q":0.5386,"i":633},{"c":77,"q":0.5409,"i":686},{"c":77,"q":0.5432,"i":739},{"c":77,"q":0.5443,"i":765},{"c":77,"q":0.5454,"i":910},{"c":77,"q":0.5466,"i":1160},{"c":77,"q":0.5477,"i":1500},{"c":77,"q":0.5488,"i":1830},{"c":77,"q":0.55,"i":1950},{"c":77,"q":0.5511,"i":1850},{"c":77,"q":0.5522,"i":1394},{"c":77,"q":0.5534,"i":967},{"c":77,"q":0.5545,"i":739},{"c":77,"q":0.5557,"i":615},{"c":77,"q":0.5568,"i":568},{"c":77,"q":0.5579,"i":551},{"c":77,"q":0.5602,"i":539},{"c":77,"q":0.5671,"i":517},{"c":77,"q":0.572,"i":513},
{"c":80,"q":0.484,"i":504},{"c":80,"q":0.5,"i":506},{"c":80,"q":0.51,"i":507},{"c":80,"q":0.5182,"i":507},{"c":80,"q":0.5216,"i":516},{"c":80,"q":0.525,"i":525},{"c":80,"q":0.5284,"i":535},{"c":80,"q":0.5318,"i":542},{"c":80,"q":0.5352,"i":549},{"c":80,"q":0.5386,"i":606},{"c":80,"q":0.5409,"i":658},{"c":80,"q":0.5432,"i":713},{"c":80,"q":0.5443,"i":740},{"c":80,"q":0.5454,"i":900},{"c":80,"q":0.5466,"i":1160},{"c":80,"q":0.5477,"i":1520},{"c":80,"q":0.5488,"i":1880},{"c":80,"q":0.55,"i":2000},{"c":80,"q":0.5511,"i":1897},{"c":80,"q":0.5522,"i":1425},{"c":80,"q":0.5534,"i":982},{"c":80,"q":0.5545,"i":746},{"c":80,"q":0.5557,"i":618},{"c":80,"q":0.5568,"i":569},{"c":80,"q":0.5579,"i":552},{"c":80,"q":0.5602,"i":540},{"c":80,"q":0.5671,"i":516},{"c":80,"q":0.572,"i":512},
{"c":83,"q":0.484,"i":507},{"c":83,"q":0.5,"i":508},{"c":83,"q":0.51,"i":509},{"c":83,"q":0.5182,"i":510},{"c":83,"q":0.5216,"i":511},{"c":83,"q":0.525,"i":513},{"c":83,"q":0.5284,"i":516},{"c":83,"q":0.5318,"i":521},{"c":83,"q":0.5352,"i":527},{"c":83,"q":0.5386,"i":538},{"c":83,"q":0.5409,"i":555},{"c":83,"q":0.5432,"i":610},{"c":83,"q":0.5443,"i":710},{"c":83,"q":0.5454,"i":895},{"c":83,"q":0.5466,"i":1160},{"c":83,"q":0.5477,"i":1520},{"c":83,"q":0.5488,"i":1890},{"c":83,"q":0.55,"i":2040},{"c":83,"q":0.5511,"i":1940},{"c":83,"q":0.5522,"i":1450},{"c":83,"q":0.5534,"i":1000},{"c":83,"q":0.5545,"i":758},{"c":83,"q":0.5557,"i":622},{"c":83,"q":0.5568,"i":572},{"c":83,"q":0.5579,"i":552},{"c":83,"q":0.5602,"i":537},{"c":83,"q":0.5671,"i":522},{"c":83,"q":0.572,"i":512},
{"c":87,"q":0.484,"i":503},{"c":87,"q":0.5,"i":504},{"c":87,"q":0.51,"i":505},{"c":87,"q":0.5182,"i":506},{"c":87,"q":0.5216,"i":507},{"c":87,"q":0.525,"i":509},{"c":87,"q":0.5284,"i":512},{"c":87,"q":0.5318,"i":516},{"c":87,"q":0.5352,"i":521},{"c":87,"q":0.5386,"i":532},{"c":87,"q":0.5409,"i":547},{"c":87,"q":0.5432,"i":600},{"c":87,"q":0.5443,"i":700},{"c":87,"q":0.5454,"i":888},{"c":87,"q":0.5466,"i":1155},{"c":87,"q":0.5477,"i":1525},{"c":87,"q":0.5488,"i":1910},{"c":87,"q":0.55,"i":2070},{"c":87,"q":0.5511,"i":1965},{"c":87,"q":0.5522,"i":1465},{"c":87,"q":0.5534,"i":1005},{"c":87,"q":0.5545,"i":759},{"c":87,"q":0.5557,"i":621},{"c":87,"q":0.5568,"i":571},{"c":87,"q":0.5579,"i":551},{"c":87,"q":0.5602,"i":536},{"c":87,"q":0.5671,"i":521},{"c":87,"q":0.572,"i":511},
{"c":91,"q":0.484,"i":500},{"c":91,"q":0.5,"i":501},{"c":91,"q":0.51,"i":502},{"c":91,"q":0.5182,"i":503},{"c":91,"q":0.5216,"i":504},{"c":91,"q":0.525,"i":505},{"c":91,"q":0.5284,"i":508},{"c":91,"q":0.5318,"i":512},{"c":91,"q":0.5352,"i":516},{"c":91,"q":0.5386,"i":526},{"c":91,"q":0.5409,"i":540},{"c":91,"q":0.5432,"i":590},{"c":91,"q":0.5443,"i":690},{"c":91,"q":0.5454,"i":880},{"c":91,"q":0.5466,"i":1150},{"c":91,"q":0.5477,"i":1530},{"c":91,"q":0.5488,"i":1930},{"c":91,"q":0.55,"i":2100},{"c":91,"q":0.5511,"i":1990},{"c":91,"q":0.5522,"i":1480},{"c":91,"q":0.5534,"i":1010},{"c":91,"q":0.5545,"i":760},{"c":91,"q":0.5557,"i":620},{"c":91,"q":0.5568,"i":570},{"c":91,"q":0.5579,"i":550},{"c":91,"q":0.5602,"i":535},{"c":91,"q":0.5671,"i":520},{"c":91,"q":0.572,"i":510},
{"c":95,"q":0.484,"i":497},{"c":95,"q":0.5,"i":498},{"c":95,"q":0.51,"i":499},{"c":95,"q":0.5182,"i":500},{"c":95,"q":0.5216,"i":501},{"c":95,"q":0.525,"i":502},{"c":95,"q":0.5284,"i":505},{"c":95,"q":0.5318,"i":509},{"c":95,"q":0.5352,"i":513},{"c":95,"q":0.5386,"i":522},{"c":95,"q":0.5409,"i":536},{"c":95,"q":0.5432,"i":585},{"c":95,"q":0.5443,"i":685},{"c":95,"q":0.5454,"i":875},{"c":95,"q":0.5466,"i":1148},{"c":95,"q":0.5477,"i":1532},{"c":95,"q":0.5488,"i":1935},{"c":95,"q":0.55,"i":2095},{"c":95,"q":0.5511,"i":1995},{"c":95,"q":0.5522,"i":1490},{"c":95,"q":0.5534,"i":1015},{"c":95,"q":0.5545,"i":762},{"c":95,"q":0.5557,"i":620},{"c":95,"q":0.5568,"i":569},{"c":95,"q":0.5579,"i":549},{"c":95,"q":0.5602,"i":534},{"c":95,"q":0.5671,"i":519},{"c":95,"q":0.572,"i":509},
{"c":99,"q":0.484,"i":494},{"c":99,"q":0.5,"i":495},{"c":99,"q":0.51,"i":496},{"c":99,"q":0.5182,"i":497},{"c":99,"q":0.5216,"i":498},{"c":99,"q":0.525,"i":499},{"c":99,"q":0.5284,"i":502},{"c":99,"q":0.5318,"i":506},{"c":99,"q":0.5352,"i":510},{"c":99,"q":0.5386,"i":519},{"c":99,"q":0.5409,"i":532},{"c":99,"q":0.5432,"i":580},{"c":99,"q":0.5443,"i":680},{"c":99,"q":0.5454,"i":870},{"c":99,"q":0.5466,"i":1145},{"c":99,"q":0.5477,"i":1535},{"c":99,"q":0.5488,"i":1940},{"c":99,"q":0.55,"i":2110},{"c":99,"q":0.5511,"i":2000},{"c":99,"q":0.5522,"i":1495},{"c":99,"q":0.5534,"i":1018},{"c":99,"q":0.5545,"i":763},{"c":99,"q":0.5557,"i":620},{"c":99,"q":0.5568,"i":568},{"c":99,"q":0.5579,"i":548},{"c":99,"q":0.5602,"i":533},{"c":99,"q":0.5671,"i":518},{"c":99,"q":0.572,"i":508}
]},
"layer": [
 {
  "data": {"name": "curves"},
  "mark": {"type": "line", "strokeWidth": 2, "clip": true},
  "encoding": {
   "x": {"field": "q", "type": "quantitative",
     "scale": {"domain": [0.484, 0.572], "nice": false, "zero": false},
     "axis": {"orient": "bottom", "values": [0.49,0.5,0.51,0.52,0.53,0.54,0.55,0.56,0.57], "format": ".2~f", "tickSize": -8, "labelPadding": 16, "title": "q [Å⁻¹]", "titleFontSize": 24, "titlePadding": 5}},
   "y": {"field": "i", "type": "quantitative",
     "scale": {"domain": [407, 2500], "nice": false, "zero": false},
     "axis": {"orient": "left", "values": [500,1000,1500,2000,2500], "labelExpr": "'' + (datum.value / 1000)", "tickSize": -8, "labelPadding": 13, "title": "Intensity [a.u]", "titlePadding": 9}},
   "color": {"field": "c", "type": "quantitative",
     "scale": {"domain": [0, 11, 28, 35, 35.3, 44, 50, 54, 62, 70, 76, 80, 84, 100],
               "range": ["#00007f", "#0000ff", "#00bfff", "#00ffff", "#66ff99", "#73ff8c", "#c0ff40", "#ffff00", "#ffb000", "#ff5000", "#ff0000", "#cc0000", "#800000", "#800000"],
               "interpolate": "rgb"},
     "legend": {"type": "gradient", "direction": "vertical", "orient": "right", "offset": 11, "padding": 0,
       "gradientLength": 477, "gradientThickness": 19, "gradientStrokeColor": "#262626", "gradientStrokeWidth": 1,
       "values": [1.8, 13.9, 28.1, 43.7, 54.3, 70.1, 84.1, 98.3],
       "labelExpr": "datum.value < 5 ? '204' : datum.value < 20 ? '232' : datum.value < 35 ? '264' : datum.value < 50 ? '300' : datum.value < 60 ? '301' : datum.value < 78 ? '338' : datum.value < 90 ? '371' : '400'",
       "labelFont": "Liberation Serif", "labelFontSize": 21, "labelColor": "#000000", "labelOffset": 6, "labelOverlap": false,
       "title": "Temperature [K]", "titleOrient": "right", "titleAnchor": "middle",
       "titleFont": "Liberation Serif", "titleFontSize": 21, "titleFontWeight": "normal", "titleColor": "#000000", "titlePadding": 18,
       "encode": {"title": {"update": {"angle": {"value": 270}, "dy": {"value": 19}, "dx": {"value": 12}}}}}},
   "detail": {"field": "c", "type": "nominal"}
  }
 },
 {
  "data": {"values": [{"t": "×10³"}]},
  "mark": {"type": "text", "align": "left", "baseline": "alphabetic", "dx": 2, "dy": -9, "font": "Liberation Serif", "fontSize": 23, "color": "#000000"},
  "encoding": {
   "x": {"datum": 0.484, "type": "quantitative", "scale": {"domain": [0.484, 0.572], "nice": false, "zero": false},
     "axis": {"orient": "top", "values": [0.49,0.5,0.51,0.52,0.53,0.54,0.55,0.56,0.57], "labels": false, "tickSize": -8,
       "title": "Integrated diffractogram of NiFh", "titleFontSize": 27, "titleBaseline": "alphabetic", "titleAlign": "center", "titleX": 415, "titleY": -12, "titleAngle": 0}},
   "y": {"datum": 2500, "type": "quantitative", "scale": {"domain": [407, 2500], "nice": false, "zero": false},
     "axis": {"orient": "right", "values": [500,1000,1500,2000,2500], "labels": false, "tickSize": -8, "title": null}},
   "text": {"field": "t", "type": "nominal"}
  }
 },
 {
  "data": {"values": [{"t": "m"}]},
  "mark": {"type": "point", "opacity": 0},
  "encoding": {
   "x": {"datum": 0.5, "type": "quantitative", "scale": {"domain": [0.484, 0.572], "nice": false, "zero": false},
     "axis": {"orient": "bottom", "values": [0.486,0.488,0.49,0.492,0.494,0.496,0.498,0.5,0.502,0.504,0.506,0.508,0.51,0.512,0.514,0.516,0.518,0.52,0.522,0.524,0.526,0.528,0.53,0.532,0.534,0.536,0.538,0.54,0.542,0.544,0.546,0.548,0.55,0.552,0.554,0.556,0.558,0.56,0.562,0.564,0.566,0.568,0.57], "labels": false, "tickSize": -4, "title": null}},
   "y": {"datum": 1000, "type": "quantitative", "scale": {"domain": [407, 2500], "nice": false, "zero": false}, "axis": null}
  }
 },
 {
  "data": {"values": [{"t": "m"}]},
  "mark": {"type": "point", "opacity": 0},
  "encoding": {
   "x": {"datum": 0.5, "type": "quantitative", "scale": {"domain": [0.484, 0.572], "nice": false, "zero": false},
     "axis": {"orient": "top", "values": [0.486,0.488,0.49,0.492,0.494,0.496,0.498,0.5,0.502,0.504,0.506,0.508,0.51,0.512,0.514,0.516,0.518,0.52,0.522,0.524,0.526,0.528,0.53,0.532,0.534,0.536,0.538,0.54,0.542,0.544,0.546,0.548,0.55,0.552,0.554,0.556,0.558,0.56,0.562,0.564,0.566,0.568,0.57], "labels": false, "tickSize": -4, "title": null}},
   "y": {"datum": 1000, "type": "quantitative", "scale": {"domain": [407, 2500], "nice": false, "zero": false}, "axis": null}
  }
 }
],
"resolve": {"axis": {"x": "independent", "y": "independent"}}
}
